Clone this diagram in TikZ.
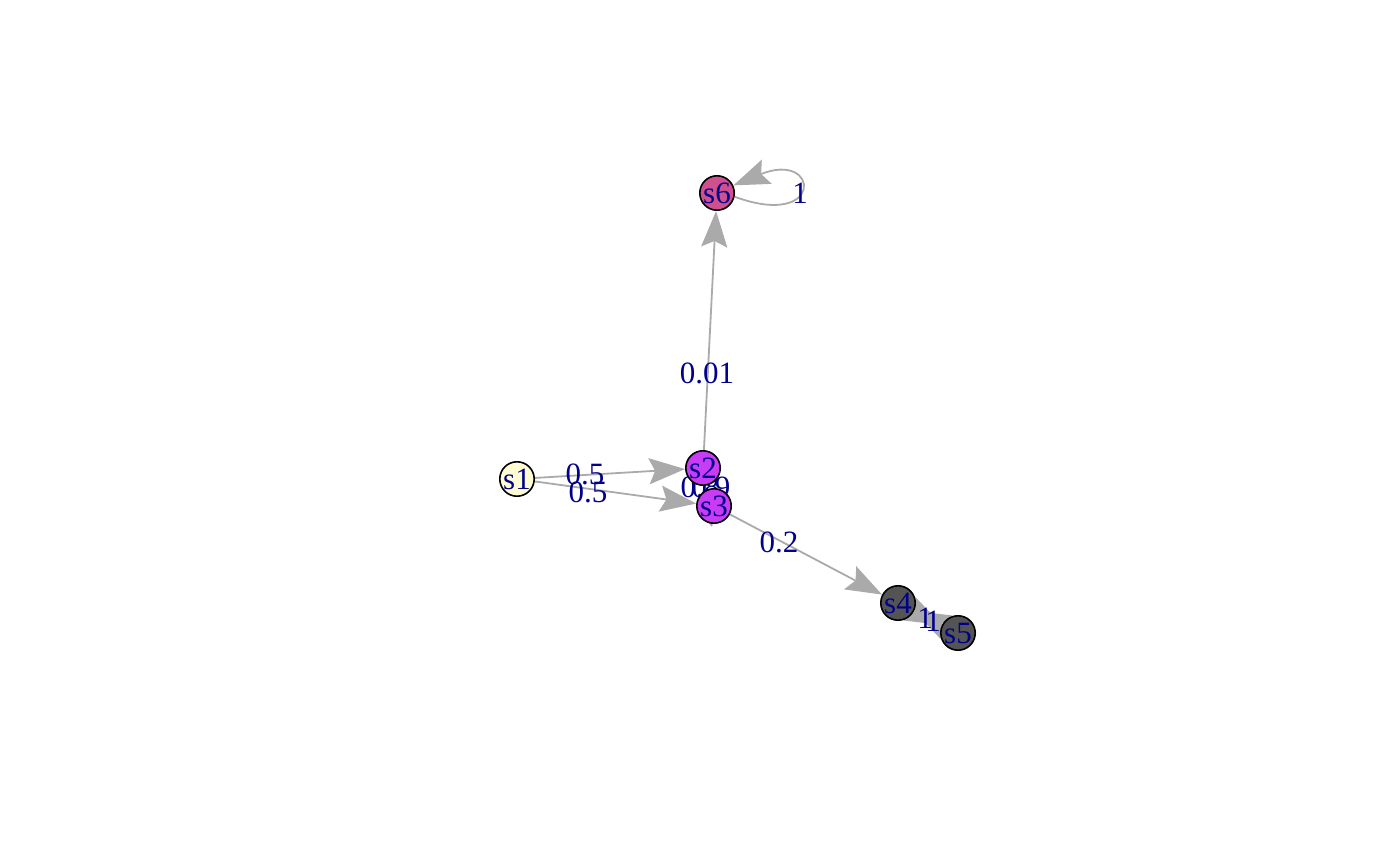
\documentclass[tikz,border=0pt]{standalone}
\usepackage{fontspec}
\setmainfont{Liberation Serif}
\usetikzlibrary{arrows.meta}
\definecolor{edgegray}{HTML}{AAAAAA}
\definecolor{lbl}{RGB}{0,0,139}
\definecolor{cyel}{HTML}{FFFCD2}
\definecolor{cpur}{HTML}{C83CF5}
\definecolor{cpink}{HTML}{D0508F}
\definecolor{cdark}{HTML}{545454}
\pgfdeclarelayer{edgelayer}
\pgfsetlayers{edgelayer,main}
\tikzset{
  vtx/.style={circle, draw=black, line width=0.8pt, minimum size=16.5pt, inner sep=0pt,
    text=lbl, font=\fontsize{15.5}{15.5}\selectfont},
  edgeline/.style={draw=edgegray, line width=0.9pt,
    -{Stealth[length=18pt,width=13pt,inset=3pt,fill=edgegray]}},
  elabel/.style={text=lbl, font=\fontsize{15.5}{15.5}\selectfont, inner sep=0pt}
}
\begin{document}
\begin{tikzpicture}[x=0.5pt,y=-0.5pt]
\useasboundingbox (0,0) rectangle (1400,865);
\node[vtx, fill=cyel]  (s1) at (517,479) {s1};
\node[vtx, fill=cpur]  (s2) at (703,468) {s2};
\node[vtx, fill=cpur]  (s3) at (714,506) {s3};
\node[vtx, fill=cdark] (s4) at (898,603) {s4};
\node[vtx, fill=cdark] (s5) at (958,633) {s5};
\node[vtx, fill=cpink] (s6) at (717,193) {s6};
\begin{pgfonlayer}{edgelayer}
\draw[edgeline] (s1) -- (s2);
\draw[edgeline] (s1) -- (s3);
\draw[edgeline] (s2) -- (s6);
\draw[edgeline] (s3) -- (s4);
\draw[edgeline] (s4) -- (s5);
\draw[edgeline] (s5) -- (s4);
\draw[edgeline] (s6.-12) .. controls (825,230) and (820,150) .. (s6.25);
\coordinate (art) at (710,520);
\fill[edgegray] (art) ++(-4,0) -- ++(8,-1) -- ++(-2,8) -- cycle;
\node[elabel] (l1) at (585,474) {0.5};
\node[elabel] (l2) at (588,492) {0.5};
\node[elabel] (l3) at (707,373) {0.01};
\node[elabel] (l4) at (779,542) {0.2};
\node[elabel] (l5) at (800,193) {1};
\node[elabel] (l6) at (925,618) {1};
\node[elabel] (l7) at (933,621) {1};
\node[elabel] (l8) at (700,487) {0.8};
\node[elabel] (l9) at (711,487) {0.9};
\end{pgfonlayer}
\end{tikzpicture}
\end{document}
